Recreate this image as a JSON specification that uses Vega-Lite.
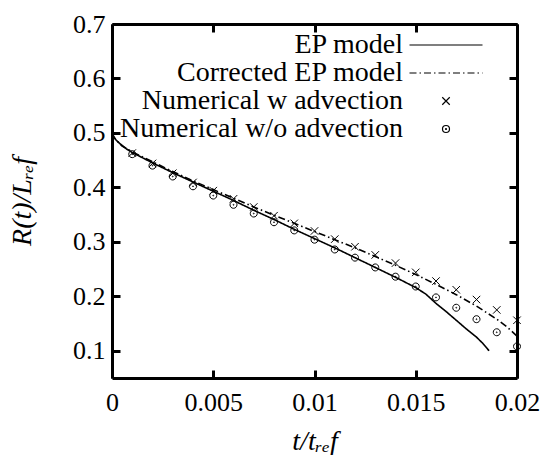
{
  "$schema": "https://vega.github.io/schema/vega-lite/v6.json",
  "autosize": "none",
  "width": 405,
  "height": 354,
  "padding": {"left": 112, "top": 24, "right": 26, "bottom": 77},
  "background": "white",
  "config": {
    "view": {"stroke": null},
    "font": "Liberation Serif",
    "axis": {
      "domain": true,
      "domainColor": "black",
      "domainWidth": 3,
      "grid": false,
      "ticks": true,
      "tickSize": -8,
      "tickColor": "black",
      "tickWidth": 3,
      "labelFlush": false,
      "labelFont": "Liberation Serif",
      "labelFontSize": 26,
      "labelColor": "black",
      "titleFont": "Liberation Serif",
      "titleFontStyle": "italic",
      "titleFontWeight": "normal",
      "titleFontSize": 28,
      "titleColor": "black"
    }
  },
  "data": {
    "values": [
      {"series": "EP model", "t": 0.0, "r": 0.5},
      {"series": "EP model", "t": 0.0001, "r": 0.492},
      {"series": "EP model", "t": 0.0002, "r": 0.487},
      {"series": "EP model", "t": 0.0004, "r": 0.48},
      {"series": "EP model", "t": 0.0007, "r": 0.471},
      {"series": "EP model", "t": 0.001, "r": 0.464},
      {"series": "EP model", "t": 0.002, "r": 0.445},
      {"series": "EP model", "t": 0.003, "r": 0.427},
      {"series": "EP model", "t": 0.004, "r": 0.41},
      {"series": "EP model", "t": 0.005, "r": 0.393},
      {"series": "EP model", "t": 0.006, "r": 0.376},
      {"series": "EP model", "t": 0.007, "r": 0.358},
      {"series": "EP model", "t": 0.008, "r": 0.341},
      {"series": "EP model", "t": 0.009, "r": 0.323},
      {"series": "EP model", "t": 0.01, "r": 0.306},
      {"series": "EP model", "t": 0.011, "r": 0.289},
      {"series": "EP model", "t": 0.012, "r": 0.271},
      {"series": "EP model", "t": 0.013, "r": 0.253},
      {"series": "EP model", "t": 0.014, "r": 0.235},
      {"series": "EP model", "t": 0.015, "r": 0.216},
      {"series": "EP model", "t": 0.0155, "r": 0.204},
      {"series": "EP model", "t": 0.016, "r": 0.187},
      {"series": "EP model", "t": 0.0165, "r": 0.172},
      {"series": "EP model", "t": 0.017, "r": 0.156},
      {"series": "EP model", "t": 0.0175, "r": 0.14},
      {"series": "EP model", "t": 0.018, "r": 0.125},
      {"series": "EP model", "t": 0.0183, "r": 0.114},
      {"series": "EP model", "t": 0.01862, "r": 0.1},
      {"series": "Corrected EP model", "t": 0.0, "r": 0.5},
      {"series": "Corrected EP model", "t": 0.0001, "r": 0.492},
      {"series": "Corrected EP model", "t": 0.0002, "r": 0.487},
      {"series": "Corrected EP model", "t": 0.0005, "r": 0.476},
      {"series": "Corrected EP model", "t": 0.001, "r": 0.465},
      {"series": "Corrected EP model", "t": 0.002, "r": 0.447},
      {"series": "Corrected EP model", "t": 0.003, "r": 0.429},
      {"series": "Corrected EP model", "t": 0.004, "r": 0.412},
      {"series": "Corrected EP model", "t": 0.005, "r": 0.396},
      {"series": "Corrected EP model", "t": 0.006, "r": 0.38},
      {"series": "Corrected EP model", "t": 0.007, "r": 0.364},
      {"series": "Corrected EP model", "t": 0.008, "r": 0.349},
      {"series": "Corrected EP model", "t": 0.009, "r": 0.334},
      {"series": "Corrected EP model", "t": 0.01, "r": 0.319},
      {"series": "Corrected EP model", "t": 0.011, "r": 0.304},
      {"series": "Corrected EP model", "t": 0.012, "r": 0.289},
      {"series": "Corrected EP model", "t": 0.013, "r": 0.273},
      {"series": "Corrected EP model", "t": 0.014, "r": 0.257},
      {"series": "Corrected EP model", "t": 0.015, "r": 0.24},
      {"series": "Corrected EP model", "t": 0.016, "r": 0.222},
      {"series": "Corrected EP model", "t": 0.017, "r": 0.203},
      {"series": "Corrected EP model", "t": 0.018, "r": 0.182},
      {"series": "Corrected EP model", "t": 0.019, "r": 0.158},
      {"series": "Corrected EP model", "t": 0.0195, "r": 0.144},
      {"series": "Corrected EP model", "t": 0.02, "r": 0.127},
      {"series": "Numerical w advection", "t": 0.001, "r": 0.463},
      {"series": "Numerical w advection", "t": 0.002, "r": 0.444},
      {"series": "Numerical w advection", "t": 0.003, "r": 0.426},
      {"series": "Numerical w advection", "t": 0.004, "r": 0.409},
      {"series": "Numerical w advection", "t": 0.005, "r": 0.394},
      {"series": "Numerical w advection", "t": 0.006, "r": 0.379},
      {"series": "Numerical w advection", "t": 0.007, "r": 0.364},
      {"series": "Numerical w advection", "t": 0.008, "r": 0.348},
      {"series": "Numerical w advection", "t": 0.009, "r": 0.334},
      {"series": "Numerical w advection", "t": 0.01, "r": 0.32},
      {"series": "Numerical w advection", "t": 0.011, "r": 0.305},
      {"series": "Numerical w advection", "t": 0.012, "r": 0.291},
      {"series": "Numerical w advection", "t": 0.013, "r": 0.276},
      {"series": "Numerical w advection", "t": 0.014, "r": 0.261},
      {"series": "Numerical w advection", "t": 0.015, "r": 0.244},
      {"series": "Numerical w advection", "t": 0.016, "r": 0.228},
      {"series": "Numerical w advection", "t": 0.017, "r": 0.212},
      {"series": "Numerical w advection", "t": 0.018, "r": 0.194},
      {"series": "Numerical w advection", "t": 0.019, "r": 0.175},
      {"series": "Numerical w advection", "t": 0.02, "r": 0.156},
      {"series": "Numerical w/o advection", "t": 0.001, "r": 0.461},
      {"series": "Numerical w/o advection", "t": 0.002, "r": 0.44},
      {"series": "Numerical w/o advection", "t": 0.003, "r": 0.42},
      {"series": "Numerical w/o advection", "t": 0.004, "r": 0.402},
      {"series": "Numerical w/o advection", "t": 0.005, "r": 0.385},
      {"series": "Numerical w/o advection", "t": 0.006, "r": 0.368},
      {"series": "Numerical w/o advection", "t": 0.007, "r": 0.352},
      {"series": "Numerical w/o advection", "t": 0.008, "r": 0.336},
      {"series": "Numerical w/o advection", "t": 0.009, "r": 0.321},
      {"series": "Numerical w/o advection", "t": 0.01, "r": 0.304},
      {"series": "Numerical w/o advection", "t": 0.011, "r": 0.286},
      {"series": "Numerical w/o advection", "t": 0.012, "r": 0.271},
      {"series": "Numerical w/o advection", "t": 0.013, "r": 0.253},
      {"series": "Numerical w/o advection", "t": 0.014, "r": 0.236},
      {"series": "Numerical w/o advection", "t": 0.015, "r": 0.218},
      {"series": "Numerical w/o advection", "t": 0.016, "r": 0.198},
      {"series": "Numerical w/o advection", "t": 0.017, "r": 0.179},
      {"series": "Numerical w/o advection", "t": 0.018, "r": 0.158},
      {"series": "Numerical w/o advection", "t": 0.019, "r": 0.134},
      {"series": "Numerical w/o advection", "t": 0.02, "r": 0.108}
    ]
  },
  "resolve": {
    "scale": {"x": "shared", "y": "shared"},
    "axis": {"x": "independent", "y": "independent"}
  },
  "layer": [
    {
      "transform": [{"filter": {"field": "series", "oneOf": ["EP model", "Corrected EP model"]}}],
      "mark": {"type": "line", "color": "black", "strokeWidth": 1.6, "clip": true},
      "encoding": {
        "x": {
          "field": "t", "type": "quantitative",
          "scale": {"domain": [0, 0.02], "nice": false, "zero": false},
          "axis": {"orient": "bottom", "values": [0, 0.005, 0.01, 0.015, 0.02], "format": "~g",
                   "labelPadding": 19, "title": "t/tᵣₑf", "titlePadding": 12}
        },
        "y": {
          "field": "r", "type": "quantitative",
          "scale": {"domain": [0.05, 0.7], "nice": false, "zero": false},
          "axis": {"orient": "left", "values": [0.1, 0.2, 0.3, 0.4, 0.5, 0.6, 0.7], "format": "~g",
                   "labelPadding": 15, "title": "R(t)/Lᵣₑf", "titlePadding": 36}
        },
        "strokeDash": {
          "field": "series", "type": "nominal",
          "scale": {"domain": ["EP model", "Corrected EP model"], "range": [[1, 0], [7, 3, 1.5, 3]]},
          "legend": null
        }
      }
    },
    {
      "transform": [{"filter": {"field": "series", "oneOf": ["Numerical w advection", "Numerical w/o advection"]}}],
      "mark": {"type": "point", "filled": false, "stroke": "black", "strokeWidth": 1, "size": 100, "opacity": 1},
      "encoding": {
        "x": {
          "field": "t", "type": "quantitative",
          "scale": {"domain": [0, 0.02], "nice": false, "zero": false},
          "axis": {"orient": "top", "values": [0, 0.005, 0.01, 0.015, 0.02], "labels": false, "title": null}
        },
        "y": {
          "field": "r", "type": "quantitative",
          "scale": {"domain": [0.05, 0.7], "nice": false, "zero": false},
          "axis": {"orient": "right", "values": [0.1, 0.2, 0.3, 0.4, 0.5, 0.6, 0.7], "labels": false, "title": null}
        },
        "shape": {
          "field": "series", "type": "nominal",
          "scale": {
            "domain": ["EP model", "Corrected EP model", "Numerical w advection", "Numerical w/o advection"],
            "range": [
              "M-7.3,0H7.3",
              "M-7.3,0H-5.9M-5.3,0H-5M-4.4,0H-3M-2.4,0H-2.1M-1.5,0H-0.1M0.5,0H0.8M1.4,0H2.8M3.4,0H3.7M4.3,0H5.7M6.3,0H6.6M7.2,0H7.3",
              "M-0.75,-0.75L0.75,0.75M-0.75,0.75L0.75,-0.75",
              "M-0.7,0A0.7,0.7 0 1,0 0.7,0A0.7,0.7 0 1,0 -0.7,0M-0.09,0A0.09,0.09 0 1,0 0.09,0A0.09,0.09 0 1,0 -0.09,0"
            ]
          },
          "legend": {
            "orient": "none",
            "legendX": 298,
            "legendY": 7,
            "title": null,
            "padding": 0,
            "rowPadding": -3,
            "symbolOffset": 22,
            "labelAlign": "right",
            "labelOffset": -57,
            "labelLimit": 400,
            "labelFont": "Liberation Serif",
            "labelFontSize": 28,
            "labelColor": "black",
            "symbolSize": 100,
            "symbolStrokeColor": "black",
            "symbolFillColor": "transparent",
            "symbolStrokeWidth": 1.2
          }
        }
      }
    }
  ]
}
